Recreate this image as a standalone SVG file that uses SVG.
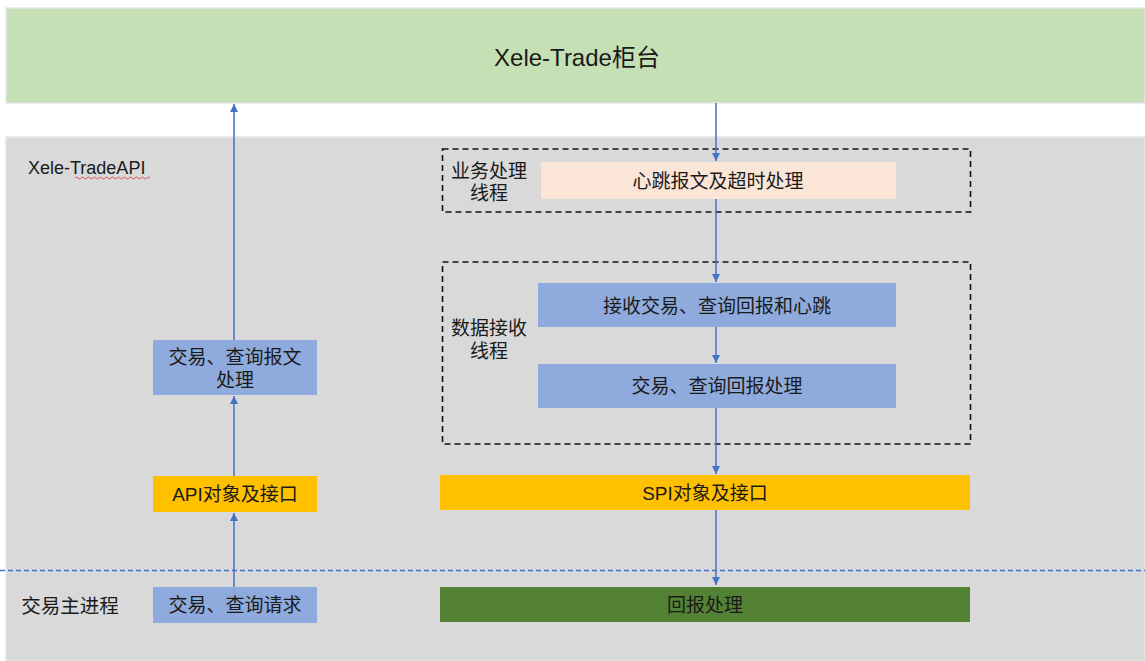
<svg xmlns="http://www.w3.org/2000/svg" width="1145" height="661" viewBox="0 0 1145 661">
<defs>
<marker id="ah" viewBox="0 0 10 10" refX="10" refY="5" markerWidth="8" markerHeight="8" markerUnits="userSpaceOnUse" orient="auto">
<path d="M0,0 L10,5 L0,10 z" fill="#4472C4"/>
</marker>
<style>
text{font-family:"Liberation Sans","Noto Sans CJK SC",sans-serif;fill:#1a1a1a;text-anchor:middle;dominant-baseline:central}
.t19{font-size:19px}
.blue{fill:#8FAADC}
.gold{fill:#FFC000}
.thread{fill:none;stroke:#111;stroke-width:1.6;stroke-dasharray:6,4}
.conn{stroke:#4472C4;stroke-width:1.5;fill:none;marker-end:url(#ah)}
</style>
</defs>
<rect width="1145" height="661" fill="#ffffff"/>
<g id="counter">
<rect x="6" y="8" width="1139" height="95" fill="#C5E0B4" stroke="#E6E6E6" stroke-width="1.5"/>
<text x="577" y="57" style="font-size:24px">Xele-Trade柜台</text>
</g>
<g id="api-area">
<rect x="6" y="137" width="1139" height="524" fill="#D9D9D9" stroke="#E6E6E6" stroke-width="1.5"/>
<text x="28" y="168" style="font-size:18px;text-anchor:start">Xele-TradeAPI</text>
<path d="M75,178 q1.5,-2 3,0 t3,0 t3,0 t3,0 t3,0 t3,0 t3,0 t3,0 t3,0 t3,0 t3,0 t3,0 t3,0 t3,0 t3,0 t3,0 t3,0 t3,0 t3,0 t3,0 t3,0 t3,0 t3,0 t3,0 t3,0" fill="none" stroke="#E03030" stroke-width="0.8"/>
</g>
<line x1="0" y1="570.5" x2="1145" y2="570.5" stroke="#4472C4" stroke-width="1.5" stroke-dasharray="5,3"/>
<g id="main-process-label">
<text x="70" y="606" style="font-size:19.5px">交易主进程</text>
</g>
<g id="biz-thread">
<rect class="thread" x="442.5" y="149" width="528" height="63"/>
<text class="t19"><tspan x="489" y="171">业务处理</tspan><tspan x="489" y="193">线程</tspan></text>
</g>
<g id="heartbeat">
<rect x="541" y="162" width="355" height="37" fill="#FBE5D6"/>
<text class="t19" x="718" y="181">心跳报文及超时处理</text>
</g>
<g id="recv-thread">
<rect class="thread" x="442.5" y="262" width="528" height="182"/>
<text class="t19"><tspan x="489" y="328">数据接收</tspan><tspan x="489" y="351">线程</tspan></text>
</g>
<g id="recv">
<rect class="blue" x="538" y="283" width="358" height="44"/>
<text class="t19" x="717" y="306">接收交易、查询回报和心跳</text>
</g>
<g id="resp-proc">
<rect class="blue" x="538" y="364" width="358" height="44"/>
<text class="t19" x="717" y="386">交易、查询回报处理</text>
</g>
<g id="spi">
<rect class="gold" x="440" y="475" width="530" height="35"/>
<text class="t19" x="705" y="493">SPI对象及接口</text>
</g>
<g id="resp-handle">
<rect x="440" y="587" width="530" height="35" fill="#548235"/>
<text class="t19" x="705" y="605">回报处理</text>
</g>
<g id="req-proc">
<rect class="blue" x="153" y="340" width="164" height="55"/>
<text class="t19"><tspan x="235" y="357">交易、查询报文</tspan><tspan x="235" y="380">处理</tspan></text>
</g>
<g id="api">
<rect class="gold" x="153" y="476" width="164" height="36"/>
<text class="t19" x="235" y="494">API对象及接口</text>
</g>
<g id="req">
<rect class="blue" x="153" y="587" width="164" height="36"/>
<text class="t19" x="235" y="605">交易、查询请求</text>
</g>
<g id="connectors">
<line class="conn" x1="234" y1="340" x2="234" y2="104"/>
<line class="conn" x1="234" y1="476" x2="234" y2="396"/>
<line class="conn" x1="234" y1="587" x2="234" y2="513"/>
<line class="conn" x1="716" y1="103" x2="716" y2="161"/>
<line class="conn" x1="716" y1="199" x2="716" y2="282"/>
<line class="conn" x1="716" y1="327" x2="716" y2="363"/>
<line class="conn" x1="716" y1="408" x2="716" y2="474"/>
<line class="conn" x1="716" y1="510" x2="716" y2="585"/>
</g>
</svg>
